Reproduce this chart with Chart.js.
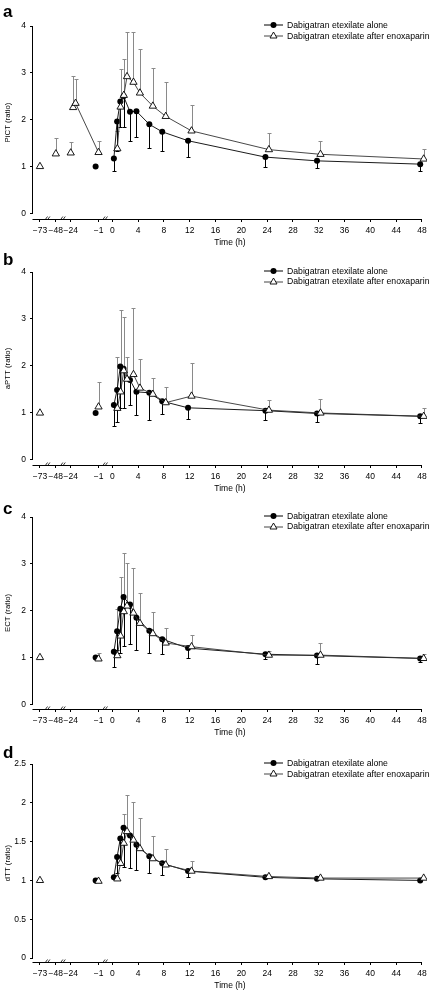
<!DOCTYPE html>
<html>
<head>
<meta charset="utf-8">
<script src="https://cdn.jsdelivr.net/npm/chart.js@4.4.1/dist/chart.umd.min.js"></script>
<style>
  body { margin: 0; background: #fff; }
  #wrap { position: relative; width: 432px; height: 996px; font-family: "Liberation Sans", Arial, sans-serif; color: #000; }
  .panel { position: absolute; left: 0; width: 432px; }
  .panel canvas { display: block; }
  .tag { position: absolute; left: 3px; font-weight: bold; font-size: 17px; line-height: 17px; }
  .legend { position: absolute; left: 264px; font-size: 8.7px; line-height: 10.5px; white-space: nowrap; }
  .legend div { display: flex; align-items: center; height: 10.5px; }
  .legend svg { margin-right: 4px; }
</style>
</head>
<body>
<div id="wrap"></div>
<script>
'use strict'

// sampling times (h) relative to dabigatran etexilate dose
var aloneTimes = [-1, 0.5, 1, 1.5, 2, 3, 4, 6, 8, 12, 24, 32, 48]
var enoxTimes = [-73, -1, 0.5, 1, 1.5, 2, 3, 4, 6, 8, 12, 24, 32, 48]
var pictEnoxTimes = [-73, -48, -24, -22, -20, -1, 0.5, 1, 1.5, 2, 3, 4, 6, 8, 12, 24, 32, 48]
var xTickLabels = [-73, -48, -24, -1, 0, 4, 8, 12, 16, 20, 24, 28, 32, 36, 40, 44, 48]

// a - PiCT
var pictAlone = [1.0, 1.17, 1.96, 2.39, 2.5, 2.17, 2.18, 1.9, 1.74, 1.55, 1.2, 1.12, 1.05]
var pictAloneLow = [null, 0.9, 1.33, 1.85, 1.85, 1.54, 1.63, 1.39, 1.32, 1.21, 0.99, 0.96, 0.91]
var pictEnox = [1.0, 1.27, 1.29, 2.26, 2.35, 1.3, 1.38, 2.27, 2.52, 2.92, 2.8, 2.57, 2.29, 2.07, 1.76, 1.36, 1.26, 1.16]
var pictEnoxHigh = [null, 1.6, 1.53, 2.94, 2.87, 1.54, 1.75, 3.09, 3.3, 3.87, 3.87, 3.5, 3.1, 2.8, 2.32, 1.71, 1.55, 1.37]

// b - aPTT
var apttAlone = [1.0, 1.17, 1.49, 1.99, 1.94, 1.7, 1.45, 1.43, 1.25, 1.11, 1.05, 0.99, 0.93]
var apttAloneLow = [null, 0.73, 0.8, 1.1, 1.1, 1.16, 0.96, 0.86, 0.97, 0.87, 0.85, 0.8, 0.78]
var apttEnox = [1.0, 1.13, 1.1, 1.45, 1.9, 1.72, 1.82, 1.53, 1.4, 1.22, 1.36, 1.06, 1.0, 0.93]
var apttEnoxHigh = [null, 1.66, 2.2, 3.2, 3.05, 2.2, 3.23, 2.14, 1.74, 1.55, 2.07, 1.28, 1.3, 1.11]

// c - ECT
var ectAlone = [1.0, 1.12, 1.56, 2.04, 2.29, 2.13, 1.85, 1.57, 1.39, 1.2, 1.07, 1.04, 0.98]
var ectAloneLow = [null, 0.79, 1.15, 1.1, 1.24, 1.28, 1.17, 1.1, 1.07, 0.98, 0.97, 0.87, 0.9]
var ectEnox = [1.0, 0.97, 1.04, 1.46, 1.98, 2.1, 1.95, 1.73, 1.51, 1.31, 1.23, 1.05, 1.05, 0.98]
var ectEnoxHigh = [null, 1.09, 2.03, 2.72, 3.24, 3.02, 2.92, 2.37, 1.98, 1.63, 1.49, 1.14, 1.31, 1.07]

// d - dTT
var dttAlone = [1.0, 1.04, 1.3, 1.54, 1.68, 1.58, 1.46, 1.31, 1.22, 1.12, 1.04, 1.02, 1.0]
var dttAloneLow = [null, null, 1.1, 1.2, 1.17, 1.16, 1.14, 1.09, 1.07, 1.04, null, null, null]
var dttEnox = [1.0, 0.99, 1.02, 1.22, 1.48, 1.63, 1.52, 1.41, 1.28, 1.2, 1.12, 1.05, 1.03, 1.03]
var dttEnoxHigh = [null, null, null, 1.5, 1.86, 2.1, 2.01, 1.8, 1.57, 1.41, 1.25, null, null, null]

var ticks4 = [0, 1, 2, 3, 4]
var ticks25 = [0, 0.5, 1, 1.5, 2, 2.5]

var legendAlone = 'Dabigatran etexilate alone'
var legendEnox = 'Dabigatran etexilate after enoxaparin'

//------------------
//- BROKEN X AXIS  -
//------------------
// pre-dose times sit on a compressed, broken part of the axis
var X_MIN = -12.31
var X_MAX = 48.77
function axisPos(t) {
    if (t >= 0) return t
    if (t >= -24) return -2.15 + (t + 1) * (4.31 / 23)
    if (t >= -48) return -8.77
    return -11.23
}
function joined(t0, t1) {
    return (t0 >= 0 && t1 >= 0) || (t0 < 0 && t1 < 0 && t0 >= -22 && t1 >= -22)
}
function fmt(v) {
    return v < 0 ? '\u2212' + Math.abs(v) : String(v)
}

var errorBars = {
    id: 'errorBars',
    beforeDatasetsDraw: function (chart) {
        var ctx = chart.ctx
        var ys = chart.scales.y
        chart.data.datasets.forEach(function (ds, i) {
            if (!ds.errEnd) return
            var meta = chart.getDatasetMeta(i)
            ctx.save()
            ctx.strokeStyle = ds.errColor
            ctx.lineWidth = 1
            meta.data.forEach(function (pt, j) {
                var end = ds.errEnd[j]
                if (end == null) return
                var x = Math.round(pt.x) + 0.5
                var y1 = Math.round(ys.getPixelForValue(end)) + 0.5
                ctx.beginPath()
                ctx.moveTo(x, pt.y)
                ctx.lineTo(x, y1)
                ctx.moveTo(x - 2, y1)
                ctx.lineTo(x + 2, y1)
                ctx.stroke()
            })
            ctx.restore()
        })
    }
}

var axisLines = {
    id: 'axisLines',
    afterDraw: function (chart) {
        var ctx = chart.ctx
        var xs = chart.scales.x
        var ys = chart.scales.y
        var area = chart.chartArea
        var left = Math.round(area.left) - 0.5
        var bottom = Math.round(area.bottom) + 0.5
        ctx.save()
        ctx.strokeStyle = '#000'
        ctx.lineWidth = 1
        ctx.beginPath()
        ctx.moveTo(left, ys.getPixelForValue(ys.max))
        ctx.lineTo(left, ys.getPixelForValue(0))
        ctx.moveTo(left, bottom)
        ctx.lineTo(xs.getPixelForValue(48), bottom)
        ctx.stroke()
        // break marks
        var breaks = [
            (axisPos(-73) + axisPos(-48)) / 2,
            (axisPos(-48) + axisPos(-24)) / 2,
            (axisPos(-1) + 0) / 2
        ]
        ctx.lineWidth = 0.8
        breaks.forEach(function (b) {
            var px = xs.getPixelForValue(b)
            ctx.beginPath()
            ctx.moveTo(px - 2.2, bottom - 0.5)
            ctx.lineTo(px - 0.4, bottom - 3)
            ctx.moveTo(px + 0.2, bottom - 0.5)
            ctx.lineTo(px + 2, bottom - 3)
            ctx.stroke()
        })
        ctx.restore()
    }
}

var panels = [
    { tag: 'a', top: 0, tagBase: 17, title: 'PiCT (ratio)', yMax: 4, yTicks: ticks4, plotH: 187.3, gap: 5.7,
      alone: pictAlone, aloneLow: pictAloneLow, enoxT: pictEnoxTimes, enox: pictEnox, enoxHigh: pictEnoxHigh },
    { tag: 'b', top: 245.7, tagBase: 265, title: 'aPTT (ratio)', yMax: 4, yTicks: ticks4, plotH: 187.6, gap: 5,
      alone: apttAlone, aloneLow: apttAloneLow, enoxT: enoxTimes, enox: apttEnox, enoxHigh: apttEnoxHigh },
    { tag: 'c', top: 490.7, tagBase: 514, title: 'ECT (ratio)', yMax: 4, yTicks: ticks4, plotH: 187.6, gap: 4.7,
      alone: ectAlone, aloneLow: ectAloneLow, enoxT: enoxTimes, enox: ectEnox, enoxHigh: ectEnoxHigh },
    { tag: 'd', top: 738, tagBase: 758, title: 'dTT (ratio)', yMax: 2.5, yTicks: ticks25, plotH: 194.3, gap: 4,
      alone: dttAlone, aloneLow: dttAloneLow, enoxT: enoxTimes, enox: dttEnox, enoxHigh: dttEnoxHigh }
]

Chart.defaults.font.family = '"Liberation Sans", Arial, sans-serif'
Chart.defaults.color = '#000'

var TOP = 26
var XH = 29
var wrap = document.getElementById('wrap')

var circleIcon = '<svg width="19" height="8"><line x1="0" y1="4" x2="19" y2="4" stroke="#000" stroke-width="1"/><circle cx="9.5" cy="4" r="3" fill="#000"/></svg>'
var triIcon = '<svg width="19" height="9"><line x1="0" y1="5" x2="19" y2="5" stroke="#444" stroke-width="1"/><polygon points="9.5,1 13,7 6,7" fill="#fff" stroke="#000" stroke-width="0.9"/></svg>'

panels.forEach(function (p) {
    var h = TOP + p.plotH + p.gap + XH
    var div = document.createElement('div')
    div.className = 'panel'
    div.style.top = p.top + 'px'
    div.style.height = h + 'px'
    var canvas = document.createElement('canvas')
    canvas.width = 432
    canvas.height = Math.round(h)
    div.appendChild(canvas)
    wrap.appendChild(div)

    var tag = document.createElement('div')
    tag.className = 'tag'
    tag.textContent = p.tag
    tag.style.top = (p.tagBase - 14.4) + 'px'
    wrap.appendChild(tag)

    var leg = document.createElement('div')
    leg.className = 'legend'
    leg.style.top = (p.top + TOP - 6) + 'px'
    leg.innerHTML = '<div>' + circleIcon + '<span>' + legendAlone + '</span></div>' +
        '<div>' + triIcon + '<span>' + legendEnox + '</span></div>'
    wrap.appendChild(leg)

    var yMin = -p.gap * p.yMax / p.plotH

    var enoxData = p.enoxT.map(function (t, i) {
        return { x: axisPos(t) + (t >= 0 ? 0.27 : 0), y: p.enox[i] }
    })
    var aloneData = aloneTimes.map(function (t, i) {
        return { x: axisPos(t) + (t >= 0 ? -0.27 : -0.45), y: p.alone[i] }
    })

    new Chart(canvas.getContext('2d'), {
        type: 'scatter',
        data: {
            datasets: [{
                label: legendEnox,
                data: enoxData,
                showLine: true,
                borderColor: '#333',
                borderWidth: 0.9,
                segment: {
                    borderColor: function (c) {
                        return joined(p.enoxT[c.p0DataIndex], p.enoxT[c.p1DataIndex]) ? '#333' : 'transparent'
                    }
                },
                pointStyle: 'triangle',
                pointRadius: 4.2,
                pointBackgroundColor: '#fff',
                pointBorderColor: '#000',
                pointBorderWidth: 0.9,
                errEnd: p.enoxHigh,
                errColor: '#8a8a8a'
            }, {
                label: legendAlone,
                data: aloneData,
                showLine: true,
                borderColor: '#000',
                borderWidth: 0.9,
                segment: {
                    borderColor: function (c) {
                        return joined(aloneTimes[c.p0DataIndex], aloneTimes[c.p1DataIndex]) ? '#000' : 'transparent'
                    }
                },
                pointStyle: 'circle',
                pointRadius: 3,
                pointBackgroundColor: '#000',
                pointBorderColor: '#000',
                pointBorderWidth: 0,
                errEnd: p.aloneLow,
                errColor: '#000'
            }]
        },
        options: {
            responsive: false,
            animation: false,
            events: [],
            layout: { padding: { top: TOP, right: 2, left: 0, bottom: 0 } },
            plugins: { legend: { display: false }, tooltip: { enabled: false } },
            scales: {
                x: {
                    type: 'linear',
                    min: X_MIN,
                    max: X_MAX,
                    afterBuildTicks: function (s) {
                        s.ticks = xTickLabels.map(function (t) { return { value: axisPos(t) } })
                    },
                    afterFit: function (s) { s.height = XH },
                    ticks: {
                        autoSkip: false,
                        maxRotation: 0,
                        padding: 4,
                        font: { size: 8.5 },
                        callback: function (v, i) { return fmt(xTickLabels[i]) }
                    },
                    grid: { drawOnChartArea: false, drawTicks: true, tickLength: 3, color: '#000' },
                    border: { display: false },
                    title: { display: true, text: 'Time (h)', font: { size: 8.5 }, padding: { top: 0, bottom: 0 } }
                },
                y: {
                    min: yMin,
                    max: p.yMax,
                    afterBuildTicks: function (s) {
                        s.ticks = p.yTicks.map(function (v) { return { value: v } })
                    },
                    afterFit: function (s) { s.width = 33 },
                    ticks: {
                        padding: 4,
                        font: { size: 8.5 },
                        callback: function (v) { return String(v) }
                    },
                    grid: { drawOnChartArea: false, drawTicks: true, tickLength: 3, color: '#000' },
                    border: { display: false },
                    title: { display: true, text: p.title, font: { size: 7.8 }, padding: { top: 3, bottom: 0 } }
                }
            }
        },
        plugins: [errorBars, axisLines]
    })
})
</script>
</body>
</html>
